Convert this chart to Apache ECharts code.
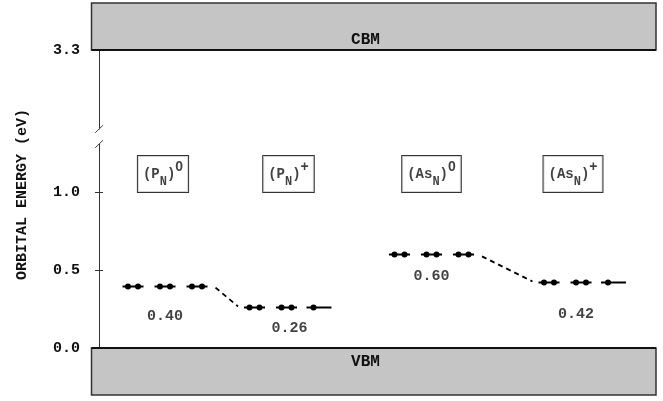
<!DOCTYPE html>
<html><head><meta charset="utf-8">
<script src="https://cdn.jsdelivr.net/npm/echarts@6/dist/echarts.min.js"></script>
<style>html,body{margin:0;padding:0;background:#fff}#c{width:663px;height:401px}</style>
</head><body><div id="c"></div>
<script>
// ---- data ----
const stateNames = ['P', 'P', 'As', 'As'];
const stateCharges = ['0', '+', '0', '+'];
const levelEnergies = [0.40, 0.26, 0.60, 0.42];
const slotElectrons = [[2, 2, 2], [2, 2, 1], [2, 2, 2], [2, 2, 1]];
const stateX = [66, 187.5, 332.5, 482];
const lowerTicks = [0.0, 0.5, 1.0];
const upperTicks = [3.3];
const cbmEnergy = 3.3;
const vbmEnergy = 0.0;
const transitions = [[0, 1], [2, 3]];

// ---- layout / style ----
const FONT = '"Liberation Mono", "Courier New", monospace';
const PX_PER_EV = 156;
const LOWER_TOP = 144, LOWER_H = 204;
const UPPER_TOP = 50, UPPER_H = 79;
const XMAX = 557;
const SLOT = 32, HALF = 10.5;
const lowerMax = LOWER_H / PX_PER_EV;
const upperMin = cbmEnergy - UPPER_H / PX_PER_EV;
const nameBoxY = 1.115;
const valueOffsets = [[0, 31], [3, 20.5], [0, 22], [-5, 32]];
const nameOffsets = [[-2, 0], [2, 0], [0, 0], [-8, 0]];

const slotData = [];
stateX.forEach((x, s) => {
  slotElectrons[s].forEach((n, k) => {
    slotData.push([x + (k - 1) * SLOT, levelEnergies[s], n]);
  });
});
const connData = transitions.map(([a, b]) => [
  stateX[a] + SLOT + HALF + 8, levelEnergies[a],
  stateX[b] - SLOT - HALF - 6, levelEnergies[b]
]);

function yAxisPair(grid, min, max, ticks) {
  return [{
    type: 'value', gridIndex: grid, min: min, max: max, position: 'left',
    axisLine: { show: true, lineStyle: { color: '#333', width: 1 } },
    axisTick: { show: true, length: 4, customValues: ticks, lineStyle: { color: '#333' } },
    axisLabel: {
      show: true, customValues: ticks, margin: 19,
      formatter: v => ticks.some(t => Math.abs(t - v) < 1e-6) ? v.toFixed(1) : '',
      fontFamily: FONT, fontWeight: 'bold', fontSize: 15, color: '#111'
    },
    splitLine: { show: false }
  }, {
    type: 'value', gridIndex: grid, min: min, max: max, position: 'left',
    axisLine: { show: false },
    axisTick: { show: true, inside: true, length: 4, customValues: ticks, lineStyle: { color: '#333' } },
    axisLabel: { show: false },
    splitLine: { show: false }
  }];
}

function bandItem(isTop) {
  return function (params, api) {
    const p = api.coord([0, api.value(0)]);
    const r = api.coord([XMAX, api.value(0)]);
    const x0 = p[0] - 7.5, w = r[0] - x0;
    const h = 47;
    const y0 = isTop ? p[1] - h : p[1];
    const edgeY = p[1];
    return {
      type: 'group',
      children: [
        { type: 'rect', shape: { x: x0, y: y0, width: w, height: h },
          style: { fill: '#c5c5c5', stroke: '#333', lineWidth: 1.5 } },
        { type: 'line', shape: { x1: x0, y1: edgeY, x2: x0 + w, y2: edgeY },
          style: { stroke: '#111', lineWidth: 2 } },
        { type: 'text', x: api.coord([266.5, 0])[0], y: isTop ? edgeY - 10 : edgeY + 14,
          style: { text: isTop ? 'CBM' : 'VBM', font: 'bold 16px ' + FONT, fill: '#111',
            align: 'center', verticalAlign: 'middle' } }
      ]
    };
  };
}

function slashItem(params, api) {
  const p = api.coord([0, api.value(0)]);
  return { type: 'line', shape: { x1: p[0] - 3.8, y1: p[1] + 3.8, x2: p[0] + 4, y2: p[1] - 3.8 },
    style: { stroke: '#444', lineWidth: 1 } };
}

const option = {
  animation: false,
  backgroundColor: '#fff',
  grid: [
    { left: 99, right: 7, top: LOWER_TOP, height: LOWER_H },
    { left: 99, right: 7, top: UPPER_TOP, height: UPPER_H }
  ],
  xAxis: [
    { type: 'value', gridIndex: 0, min: 0, max: XMAX, show: false },
    { type: 'value', gridIndex: 1, min: 0, max: XMAX, show: false }
  ],
  yAxis: [].concat(yAxisPair(0, 0, lowerMax, lowerTicks), yAxisPair(1, upperMin, cbmEnergy, upperTicks)),
  graphic: [{
    type: 'text', x: 22, y: 194.5, rotation: Math.PI / 2,
    style: { text: 'ORBITAL ENERGY (eV)', font: 'bold 15px ' + FONT, fill: '#111',
      align: 'center', verticalAlign: 'middle' }
  }],
  series: [
    { type: 'custom', xAxisIndex: 0, yAxisIndex: 0, clip: false, z: 3,
      data: [[vbmEnergy]], encode: { y: 0 }, renderItem: bandItem(false) },
    { type: 'custom', xAxisIndex: 1, yAxisIndex: 2, clip: false, z: 3,
      data: [[cbmEnergy]], encode: { y: 0 }, renderItem: bandItem(true) },
    { type: 'custom', xAxisIndex: 0, yAxisIndex: 0, clip: false,
      data: [[lowerMax]], encode: { y: 0 }, renderItem: slashItem },
    { type: 'custom', xAxisIndex: 1, yAxisIndex: 2, clip: false,
      data: [[upperMin]], encode: { y: 0 }, renderItem: slashItem },
    { type: 'custom', xAxisIndex: 0, yAxisIndex: 0, clip: false,
      data: slotData, encode: { x: 0, y: 1 },
      renderItem: function (params, api) {
        const p = api.coord([api.value(0), api.value(1)]);
        const n = api.value(2);
        const y = Math.round(p[1]) + 0.5;
        const children = [];
        const dots = n === 2 ? [p[0] - 5, p[0] + 5] : [p[0] - 5];
        const x1 = n === 2 ? p[0] - HALF : p[0] - 12;
        const x2 = n === 2 ? p[0] + HALF : p[0] + 13;
        children.push({ type: 'line', shape: { x1: x1, y1: y, x2: x2, y2: y },
          style: { stroke: '#000', lineWidth: 2 } });
        dots.forEach(dx => children.push({ type: 'circle', shape: { cx: dx, cy: y, r: 3 },
          style: { fill: '#000' } }));
        return { type: 'group', children: children };
      } },
    { type: 'custom', xAxisIndex: 0, yAxisIndex: 0, clip: false,
      data: connData, encode: { x: [0, 2], y: [1, 3] },
      renderItem: function (params, api) {
        const a = api.coord([api.value(0), api.value(1)]);
        const b = api.coord([api.value(2), api.value(3)]);
        return { type: 'line', shape: { x1: a[0], y1: a[1] + 2, x2: b[0], y2: b[1] - 1 },
          style: { stroke: '#000', lineWidth: 1.8, lineDash: [5, 4] } };
      } },
    { type: 'scatter', xAxisIndex: 0, yAxisIndex: 0, symbolSize: 1,
      itemStyle: { color: 'rgba(0,0,0,0)' },
      data: levelEnergies.map((e, i) => ({
        value: [stateX[i], e],
        label: { show: true, position: 'inside', offset: valueOffsets[i],
          formatter: e.toFixed(2), fontFamily: FONT, fontWeight: 'bold', fontSize: 15, color: '#111' }
      })) },
    { type: 'scatter', xAxisIndex: 0, yAxisIndex: 0, symbolSize: 1,
      itemStyle: { color: 'rgba(0,0,0,0)' },
      data: stateNames.map((nm, i) => ({
        value: [stateX[i], nameBoxY],
        label: {
          show: true, position: 'inside', offset: nameOffsets[i],
          formatter: '{m|(' + nm + '}{s|N}{m|)}{p|' + stateCharges[i] + '}',
          borderColor: '#000', borderWidth: 1, backgroundColor: '#fff',
          padding: [4, 5, 4, 5],
          rich: {
            m: { fontFamily: FONT, fontWeight: 'bold', fontSize: 14, color: '#111', lineHeight: 28, verticalAlign: 'middle' },
            s: { fontFamily: FONT, fontWeight: 'bold', fontSize: 12, color: '#111', lineHeight: 12, verticalAlign: 'bottom' },
            p: { fontFamily: 'Liberation Sans, Arial, sans-serif', fontWeight: 'bold', fontSize: 14, color: '#111', lineHeight: 14, verticalAlign: 'top' }
          }
        }
      })) }
  ]
};
const chart = echarts.init(document.getElementById('c'), null, { renderer: 'canvas' });
chart.setOption(option);
</script></body></html>
